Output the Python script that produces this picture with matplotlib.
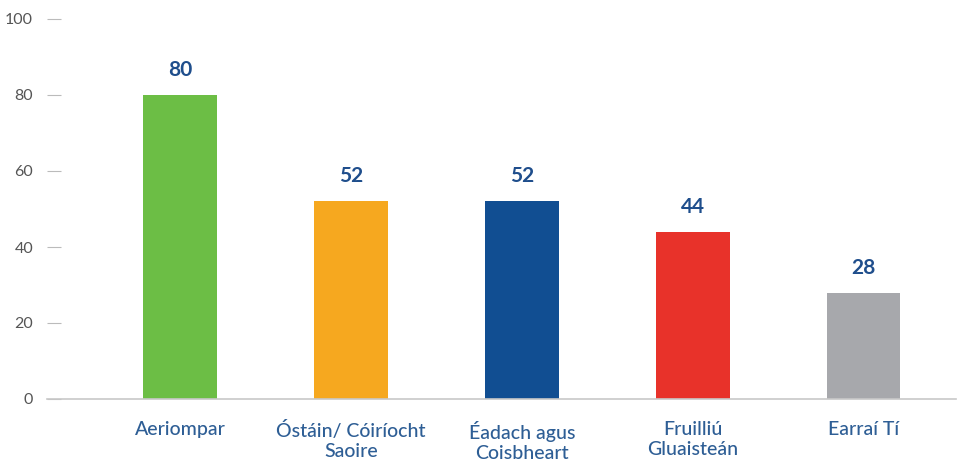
import matplotlib
matplotlib.use("Agg")
import matplotlib.pyplot as plt

categories = ["Aeriompar", "Óstáin/ Cóiríocht\nSaoire", "Éadach agus\nCoisbheart",
              "Fruilliú\nGluaisteán", "Earraí Tí"]
values = [80, 52, 52, 44, 28]
colors = ["#6CBE45", "#F6A81F", "#114E92", "#E8322A", "#A7A8AC"]
yticks = [0, 20, 40, 60, 80, 100]

plt.rcParams["font.family"] = ["Lato", "DejaVu Sans"]

fig = plt.figure(figsize=(9.57, 4.61), dpi=100)
ax = fig.add_axes([47 / 957, 1 - 399 / 461, (956 - 47) / 957, (399 - 19) / 461])

x = list(range(len(categories)))
ax.bar(x, values, width=0.43, color=colors, zorder=2)

for xi, v in zip(x, values):
    ax.annotate(str(v), (xi, v), xytext=(0, 18), textcoords="offset points",
                ha="center", va="center", fontsize=15, fontweight="bold",
                color="#1F4E8C")

ax.set_xlim(-0.778, 4.54)
ax.set_ylim(0, 100)
ax.set_yticks(yticks)
ax.set_xticks(x)
ax.set_xticklabels(categories, fontsize=14, color="#2E5E95", linespacing=1.2,
                   fontweight="medium")
ax.tick_params(axis="x", length=0, pad=16)
ax.tick_params(axis="y", direction="in", length=10, width=0.8, color="#BBBBBB",
               labelsize=11.5, labelcolor="#555555", pad=10)

for s in ["top", "right", "left"]:
    ax.spines[s].set_visible(False)
ax.spines["bottom"].set_color("#C8C8C8")
ax.spines["bottom"].set_linewidth(1.2)

fig.savefig("out.png", dpi=100)
